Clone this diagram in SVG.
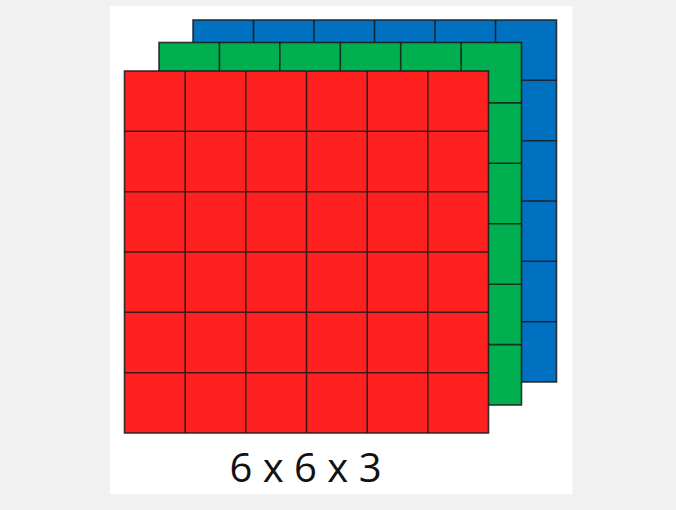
<svg xmlns="http://www.w3.org/2000/svg" width="676" height="510" viewBox="0 0 676 510">
<defs>
<style>
.ln{stroke:#1a1a1a;stroke-width:1.6;stroke-opacity:0.85;fill:none}
.lbl{font-family:"Open Sans","Liberation Sans",sans-serif;font-size:40px;fill:#111;text-anchor:middle}
</style>
</defs>
<rect x="0" y="0" width="676" height="510" fill="#f1f1f1"/>
<rect x="110" y="6" width="462.5" height="488" fill="#ffffff"/>
<g id="blue">
<rect x="193" y="20" width="363.5" height="362" fill="#0070c0"/>
<path class="ln" d="M253.5 20V382M314 20V382M374.5 20V382M435 20V382M495.5 20V382M193 80.3H556.5M193 140.7H556.5M193 201H556.5M193 261.3H556.5M193 321.7H556.5"/>
<rect class="ln" x="193" y="20" width="363.5" height="362"/>
</g>
<g id="green">
<rect x="159" y="42.5" width="362.5" height="362.5" fill="#00b050"/>
<path class="ln" d="M219.4 42.5V405M279.8 42.5V405M340.3 42.5V405M400.7 42.5V405M461.1 42.5V405M159 102.9H521.5M159 163.3H521.5M159 223.8H521.5M159 284.2H521.5M159 344.6H521.5"/>
<rect class="ln" x="159" y="42.5" width="362.5" height="362.5"/>
</g>
<g id="red">
<rect x="124.5" y="71" width="364" height="362" fill="#ff2020"/>
<path class="ln" d="M185.2 71V433M245.8 71V433M306.5 71V433M367.2 71V433M427.8 71V433M124.5 131.3H488.5M124.5 191.7H488.5M124.5 252H488.5M124.5 312.3H488.5M124.5 372.7H488.5"/>
<rect class="ln" x="124.5" y="71" width="364" height="362"/>
</g>
<text id="label" class="lbl" x="305.5" y="482">6 x 6 x 3</text>
</svg>
